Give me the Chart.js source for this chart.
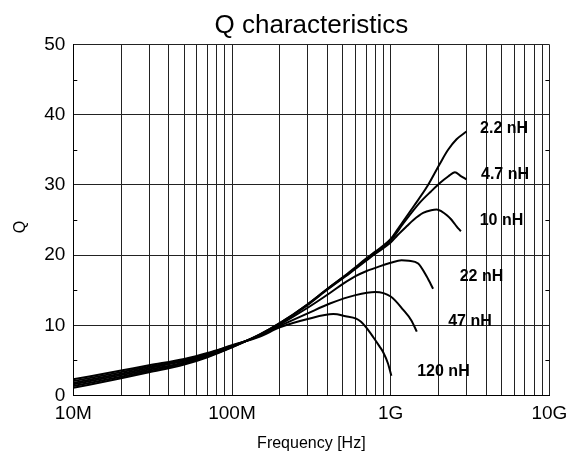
<!DOCTYPE html>
<html><head><meta charset="utf-8">
<script src="https://cdn.jsdelivr.net/npm/chart.js@4/dist/chart.umd.min.js"></script>
<style>html,body{margin:0;padding:0;background:#fff;overflow:hidden;}</style>
</head><body>
<canvas id="c" width="577" height="454" style="width:577px;height:454px;display:block"></canvas>
<script>
const chartTitle = 'Q characteristics';
const yAxisTitle = 'Q';
const seriesNames = ['2.2 nH', '4.7 nH', '10 nH', '22 nH', '47 nH', '120 nH'];

const freq_2_2 = [10e6, 20e6, 30e6, 50e6, 70e6, 100e6, 150e6, 200e6, 300e6, 400e6, 550e6, 700e6, 800e6, 1e9, 1.1e9, 1.4e9, 1.7e9, 2.05e9, 2.3e9, 2.6e9, 3.0e9];
const q_2_2    = [1.1, 2.45, 3.3, 4.4, 5.45, 6.85, 8.7, 10.3, 13.0, 15.2, 17.6, 19.5, 20.5, 22.3, 23.6, 27.0, 29.8, 33.1, 35.0, 36.5, 37.6];

const freq_4_7 = [10e6, 20e6, 30e6, 50e6, 70e6, 100e6, 150e6, 200e6, 300e6, 400e6, 550e6, 700e6, 800e6, 1e9, 1.2e9, 1.53e9, 1.8e9, 2.05e9, 2.3e9, 2.54e9, 2.75e9, 3.0e9];
const q_4_7    = [1.35, 2.67, 3.5, 4.55, 5.55, 6.9, 8.7, 10.3, 13.0, 15.2, 17.5, 19.4, 20.4, 22.1, 24.5, 27.5, 29.1, 30.3, 31.2, 31.8, 31.3, 30.8];

const freq_10 = [10e6, 20e6, 30e6, 50e6, 70e6, 100e6, 150e6, 200e6, 300e6, 400e6, 550e6, 700e6, 800e6, 1e9, 1.1e9, 1.26e9, 1.39e9, 1.6e9, 1.8e9, 1.95e9, 2.1e9, 2.25e9, 2.4e9, 2.5e9, 2.6e9, 2.77e9];
const q_10    = [1.6, 2.9, 3.7, 4.7, 5.7, 6.95, 8.65, 10.2, 12.9, 15.1, 17.4, 19.2, 20.2, 21.8, 22.8, 24.1, 25.0, 26.0, 26.4, 26.5, 26.2, 25.7, 25.1, 24.6, 24.1, 23.4];

const freq_22 = [10e6, 20e6, 30e6, 50e6, 70e6, 100e6, 150e6, 200e6, 300e6, 414e6, 500e6, 600e6, 700e6, 850e6, 1e9, 1.17e9, 1.3e9, 1.49e9, 1.69e9, 1.85e9];
const q_22    = [1.8, 3.1, 3.9, 4.9, 5.8, 7.05, 8.6, 10.1, 12.5, 14.6, 15.9, 17.0, 17.7, 18.4, 18.9, 19.25, 19.2, 18.8, 16.9, 15.2];

const freq_47 = [10e6, 20e6, 30e6, 50e6, 70e6, 100e6, 150e6, 200e6, 300e6, 414e6, 600e6, 800e6, 1e9, 1.2e9, 1.35e9, 1.46e9];
const q_47    = [2.05, 3.33, 4.1, 5.05, 5.95, 7.1, 8.5, 9.9, 11.7, 13.1, 14.3, 14.75, 14.1, 12.2, 10.7, 9.1];

const freq_120 = [10e6, 20e6, 30e6, 50e6, 70e6, 100e6, 150e6, 200e6, 300e6, 435e6, 520e6, 606e6, 650e6, 700e6, 777e6, 850e6, 900e6, 960e6, 1.01e9];
const q_120    = [2.3, 3.55, 4.3, 5.2, 6.05, 7.15, 8.4, 9.7, 10.9, 11.6, 11.3, 10.95, 10.5, 9.7, 8.3, 7.0, 6.1, 4.6, 2.8];

const labelFreq = [5.18e9, 5.25e9, 4.99e9, 3.73e9, 3.16e9, 2.15e9];
const labelQ    = [37.96, 31.4, 24.9, 17.0, 10.5, 3.4];

const xTickValues = [1e7, 1e8, 1e9, 1e10];
const xTickLabels = ['10M', '100M', '1G', '10G'];
const yTickValues = [0, 10, 20, 30, 40, 50];
const yMinorTicks = [5, 15, 25, 35, 45];

const FONT = '"Liberation Sans", Arial, Helvetica, sans-serif';
const freqs = [freq_2_2, freq_4_7, freq_10, freq_22, freq_47, freq_120];
const qs = [q_2_2, q_4_7, q_10, q_22, q_47, q_120];

const datasets = seriesNames.map((n, k) => ({
  label: n,
  data: freqs[k].map((f, i) => ({x: f, y: qs[k][i]})),
  borderColor: '#000',
  borderWidth: 2,
  pointRadius: 0,
  fill: false,
  cubicInterpolationMode: 'monotone'
}));

const overlay = {
  id: 'overlay',
  afterDatasetsDraw(chart) {
    const {ctx, chartArea: a, scales: {x, y}} = chart;
    ctx.save();
    ctx.strokeStyle = '#000';
    ctx.lineWidth = 1;
    ctx.beginPath();
    yMinorTicks.forEach(v => {
      const py = Math.round(y.getPixelForValue(v)) + 0.5;
      ctx.moveTo(a.left, py); ctx.lineTo(a.left + 4, py);
      ctx.moveTo(a.right, py); ctx.lineTo(a.right - 4, py);
    });
    ctx.stroke();
    ctx.fillStyle = '#000';
    ctx.textAlign = 'center';
    ctx.textBaseline = 'middle';
    ctx.font = 'bold 16px ' + FONT;
    seriesNames.forEach((n, i) => {
      ctx.fillText(n, x.getPixelForValue(labelFreq[i]), y.getPixelForValue(labelQ[i]));
    });
    ctx.font = '26px ' + FONT;
    ctx.fillText(chartTitle, (a.left + a.right) / 2, 26);
    ctx.font = '16px ' + FONT;
    ctx.translate(21, (a.top + a.bottom) / 2 + 7);
    ctx.rotate(-Math.PI / 2);
    ctx.fillText(yAxisTitle, 0, 0);
    ctx.restore();
  }
};

new Chart(document.getElementById('c'), {
  type: 'line',
  data: {datasets},
  options: {
    responsive: false,
    animation: false,
    layout: {padding: {left: 0, right: 27.6, top: 44.5, bottom: 0}},
    plugins: {legend: {display: false}, title: {display: false}, tooltip: {enabled: false}},
    scales: {
      x: {
        type: 'logarithmic', min: 1e7, max: 1e10,
        afterBuildTicks: s => {
          const t = [];
          for (let e = 7; e < 10; e++) for (let m = 1; m < 10; m++) t.push({value: m * Math.pow(10, e)});
          t.push({value: 1e10});
          s.ticks = t;
        },
        ticks: {
          autoSkip: false, maxRotation: 0, minRotation: 0, padding: 7, color: '#000',
          font: {family: FONT, size: 19},
          callback: v => {
            const i = xTickValues.findIndex(t => Math.abs(t - v) / t < 1e-6);
            return i >= 0 ? xTickLabels[i] : '';
          }
        },
        grid: {color: '#222', lineWidth: 1, drawTicks: false},
        border: {color: '#000', width: 1},
        title: {display: true, text: 'Frequency [Hz]', color: '#000', font: {family: FONT, size: 16}, padding: {top: 0, bottom: 1}},
        afterFit: s => { s.height = 58.5; }
      },
      y: {
        min: 0, max: 50,
        afterBuildTicks: s => { s.ticks = yTickValues.map(v => ({value: v})); },
        ticks: {padding: 8, color: '#000', font: {family: FONT, size: 19}},
        grid: {color: '#222', lineWidth: 1, drawTicks: false},
        border: {color: '#000', width: 1},
        title: {display: false},
        afterFit: s => { s.width = 73.3; }
      }
    }
  },
  plugins: [overlay]
});
</script>
</body></html>
